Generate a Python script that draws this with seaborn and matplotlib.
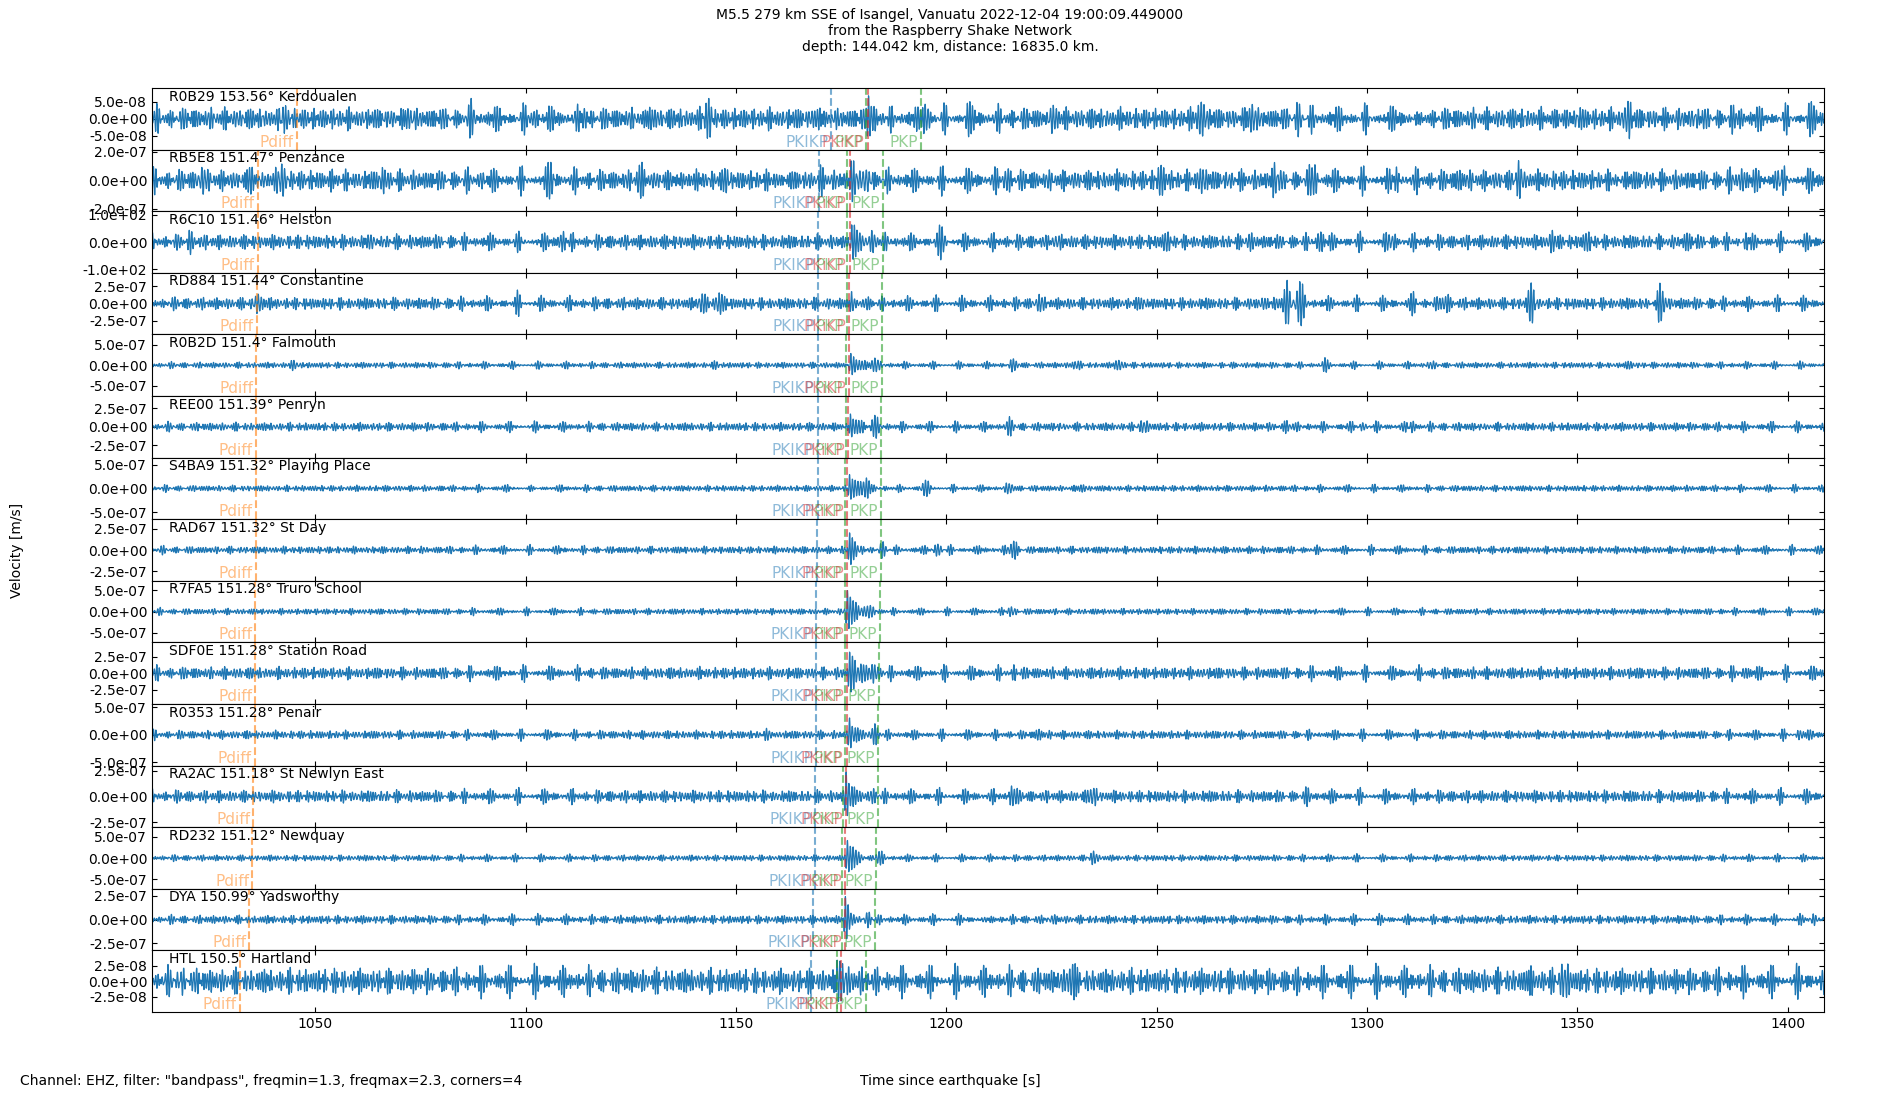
import numpy as np
import pandas as pd
import matplotlib
matplotlib.use("Agg")
import matplotlib.pyplot as plt
import seaborn as sns
from matplotlib.ticker import FormatStrFormatter, MultipleLocator

# stations, top to bottom
stations = ["R0B29", "RB5E8", "R6C10", "RD884", "R0B2D", "REE00", "S4BA9", "RAD67",
            "R7FA5", "SDF0E", "R0353", "RA2AC", "RD232", "DYA", "HTL"]
distances = ["153.56", "151.47", "151.46", "151.44", "151.4", "151.39", "151.32", "151.32",
             "151.28", "151.28", "151.28", "151.18", "151.12", "150.99", "150.5"]
places = ["Kerdoualen", "Penzance", "Helston", "Constantine", "Falmouth", "Penryn",
          "Playing Place", "St Day", "Truro School", "Station Road", "Penair",
          "St Newlyn East", "Newquay", "Yadsworthy", "Hartland"]

# y range and tick per panel
ylims = [9.1e-8, 2.16e-7, 1.14e2, 4.5e-7, 7.5e-7, 4.2e-7, 6.5e-7, 3.6e-7,
         7.2e-7, 4.7e-7, 5.6e-7, 3.0e-7, 7.3e-7, 3.26e-7, 5.0e-8]
yticks = [5e-8, 2e-7, 1e2, 2.5e-7, 5e-7, 2.5e-7, 5e-7, 2.5e-7,
          5e-7, 2.5e-7, 5e-7, 2.5e-7, 5e-7, 2.5e-7, 2.5e-8]

# phase arrivals [s]
t_pdiff = [1045.6, 1036.3, 1036.3, 1036.1, 1036.0, 1035.9, 1035.9, 1035.8,
           1035.7, 1035.7, 1035.6, 1035.3, 1035.0, 1034.3, 1032.0]
t_pkikp = [1172.7, 1169.7, 1169.5, 1169.5, 1169.4, 1169.4, 1169.4, 1169.3,
           1169.1, 1169.1, 1169.1, 1168.9, 1168.7, 1168.3, 1167.9]
t_pkp1 = [1181.0, 1176.4, 1176.4, 1176.3, 1176.2, 1176.1, 1176.0, 1175.9,
          1175.8, 1175.8, 1175.8, 1175.5, 1175.3, 1175.1, 1174.1]
t_pkikp_i = [1181.3, 1177.0, 1177.0, 1176.9, 1176.8, 1176.7, 1176.5, 1176.5,
             1176.4, 1176.4, 1176.3, 1176.2, 1176.0, 1175.9, 1174.9]
t_pkp2 = [1194.0, 1184.9, 1184.9, 1184.7, 1184.6, 1184.5, 1184.4, 1184.4,
          1184.2, 1183.9, 1183.8, 1183.7, 1183.3, 1183.0, 1180.9]

# waveform read-off (fractions of panel half height)
noise_level = [0.18, 0.17, 0.12, 0.10, 0.05, 0.07, 0.05, 0.06,
               0.05, 0.10, 0.07, 0.10, 0.05, 0.07, 0.21]
main_t = [1181.5, 1177.3, 1177.5, 1177.5, 1177.3, 1177.2, 1177.0, 1177.0,
          1176.5, 1177.0, 1177.0, 1176.2, 1176.5, 1176.0, 1174.0]
main_amp = [0.68, 0.65, 0.65, 0.50, 0.48, 0.50, 0.50, 0.55,
            0.70, 0.65, 0.50, 0.75, 0.55, 0.75, 0.80]
bursts = [
    [(1042.3, .32), (1072, .25), (1087, .3), (1102, .3), (1114, .33), (1129.5, .3),
     (1143.5, .55), (1170, .35), (1195, .5), (1205, .3), (1225.5, .5), (1260.6, .4),
     (1272.7, .35), (1284, .4), (1312, .42), (1344, .35), (1350, .35), (1362, .38),
     (1378, .35), (1389, .33), (1405, .3)],
    [(1023, .3), (1035, .3), (1042, .43), (1054, .3), (1066, .3), (1090, .25),
     (1106, .3), (1127, .4), (1137, .3), (1148, .3), (1161.5, .3), (1170, .3),
     (1181, .45), (1214, .38), (1251, .3), (1261, .3), (1278, .38), (1287.6, .42),
     (1307, .3), (1322, .25), (1336, .35), (1360.7, .3), (1389, .45), (1397.7, .35)],
    [(1020, .25), (1064, .25), (1109, .3), (1183, .3), (1199, .35), (1226, .28),
     (1252, .2), (1272, .2), (1289, .27), (1306, .2), (1344, .22), (1352, .2),
     (1376, .18), (1390, .2)],
    [(1036.5, .2), (1098, .43), (1142, .3), (1146, .45), (1222, .2), (1247, .2),
     (1275, .3), (1281, .73), (1284, .6), (1311, .3), (1318.6, .25), (1339, .5),
     (1369.6, .55), (1391, .18)],
    [(1045, .1), (1145.5, .08), (1183, .25), (1216, .2), (1230.6, .15), (1241, .12),
     (1265, .1), (1290, .12), (1315, .1), (1362, .1)],
    [(1183, .25), (1215, .15), (1227, .13), (1247, .15), (1281, .13), (1299, .12),
     (1311, .13), (1327, .1)],
    [(1101.5, .1), (1181, .3), (1195, .2), (1215, .17), (1232, .1)],
    [(1185, .2), (1198, .2), (1216, .27), (1247, .1)],
    [(1182, .2), (1215.5, .18), (1287, .1)],
    [(1183, .35), (1216, .2), (1390, .12)],
    [(1158, .15), (1183, .25), (1222, .15), (1403, .15)],
    [(1182, .3), (1215.5, .3), (1235, .3), (1286, .15)],
    [(1184, .15), (1235, .15)],
    [(1181, .3), (1210, .15), (1225, .15), (1406, .15)],
    [(1018, .4), (1180, .4), (1230, .4), (1339, .35), (1347, .4)],
]

t = np.arange(1011.2, 1408.6, 0.05)

# band 1.3-2.3 Hz carrier components
freqs = [1.31, 1.47, 1.62, 1.79, 1.93, 2.17]
weights = [0.8, 1.0, 0.9, 1.0, 0.8, 0.6]


def make_trace(i):
    carrier = np.zeros_like(t)
    for k, (f, w) in enumerate(zip(freqs, weights)):
        carrier += w * np.sin(2 * np.pi * f * t + (k + 1) * (0.7 * i + 0.4))
    carrier /= np.sqrt(np.sum(np.square(weights)) / 2)
    y = noise_level[i] * 0.9 * carrier
    for tb, ab in bursts[i]:
        y = y + ab * np.exp(-((t - tb) / 1.0) ** 2) * np.cos(2 * np.pi * 1.5 * (t - tb))
    dt = t - main_t[i]
    env = np.where(dt < 0, np.exp(-(dt / 0.4) ** 2), np.exp(-np.clip(dt, 0, None) / 1.8))
    y = y + main_amp[i] * env * np.cos(2 * np.pi * 1.5 * dt)
    return y * ylims[i]


sns.set_style("ticks", {"xtick.direction": "in", "ytick.direction": "in",
                        "axes.edgecolor": "black", "text.color": "black",
                        "xtick.color": "black", "ytick.color": "black",
                        "axes.labelcolor": "black"})
plt.rcParams["font.family"] = ["DejaVu Sans"]

fig, axes = plt.subplots(15, 1, figsize=(19, 11), dpi=100, sharex=True)
fig.subplots_adjust(left=0.08, right=0.96, top=0.92, bottom=0.08, hspace=0)

phases = [(t_pdiff, "Pdiff", "tab:orange"),
          (t_pkikp, "PKIKP", "tab:blue"),
          (t_pkp1, "PKP", "tab:green"),
          (t_pkikp_i, "PKiKP", "tab:red"),
          (t_pkp2, "PKP", "tab:green")]

for i, ax in enumerate(axes):
    df = pd.DataFrame({"t": t, "v": make_trace(i)})
    sns.lineplot(data=df, x="t", y="v", ax=ax, color="#1f77b4", lw=0.9, estimator=None)
    ax.set_xlim(1011.2, 1408.6)
    ax.set_ylim(-ylims[i], ylims[i])
    ax.set_yticks([-yticks[i], 0, yticks[i]])
    ax.yaxis.set_major_formatter(FormatStrFormatter("%.1e"))
    ax.xaxis.set_major_locator(MultipleLocator(50))
    ax.set_xlabel("")
    ax.set_ylabel("")
    ax.tick_params(axis="x", direction="in", top=True, labelsize=10)
    ax.tick_params(axis="y", direction="in", right=True, labelsize=10)
    ax.text(0.01, 0.975, f"{stations[i]} {distances[i]}° {places[i]}",
            transform=ax.transAxes, va="top", ha="left", fontsize=10)
    for arr, name, col in phases:
        ax.axvline(arr[i], color=col, ls="--", lw=1.5, alpha=0.6)
        ax.text(arr[i] - 0.7, 0.0, name, color=col, alpha=0.5, fontsize=11,
                ha="right", va="bottom", transform=ax.get_xaxis_transform())

fig.suptitle("M5.5 279 km SSE of Isangel, Vanuatu 2022-12-04 19:00:09.449000\n"
             "from the Raspberry Shake Network\n"
             "depth: 144.042 km, distance: 16835.0 km.",
             fontsize=10, y=0.993, va="top")
fig.text(0.009, 0.5, "Velocity [m/s]", rotation=90, va="center", ha="center", fontsize=10)
fig.text(0.0105, 0.017, 'Channel: EHZ, filter: "bandpass", freqmin=1.3, freqmax=2.3, corners=4',
         va="center", ha="left", fontsize=10)
fig.text(0.5, 0.017, "Time since earthquake [s]", va="center", ha="center", fontsize=10)

fig.savefig("out.png", dpi=100)
